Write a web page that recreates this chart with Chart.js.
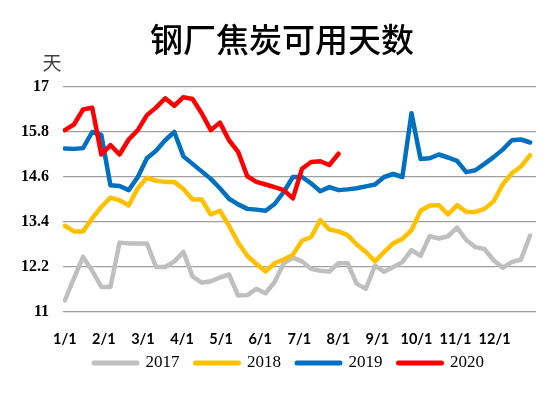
<!DOCTYPE html>
<html><head><meta charset="utf-8">
<script src="https://cdn.jsdelivr.net/npm/chart.js@4.4.1/dist/chart.umd.min.js"></script>
<style>html,body{margin:0;padding:0;background:#fff}#c{display:block}</style>
</head><body>
<canvas id="c" width="550" height="396"></canvas>
<script>
const chartTitle = '钢厂焦炭可用天数';
const unitLabel = '天';
const monthLabels = ['1/1','2/1','3/1','4/1','5/1','6/1','7/1','8/1','9/1','10/1','11/1','12/1'];
const yTicks = [11, 12.2, 13.4, 14.6, 15.8, 17];
const yTickLabels = ['11', '12.2', '13.4', '14.6', '15.8', '17'];
const seriesNames = ['2017', '2018', '2019', '2020'];
const seriesColors = ['#BFBFBF', '#FFC000', '#0070C0', '#FF0000'];

const v2017 = [11.31,11.9,12.47,12.1,11.67,11.67,12.85,12.83,12.83,12.83,12.2,12.2,12.35,12.6,11.95,11.78,11.82,11.92,12.0,11.44,11.45,11.62,11.5,11.8,12.3,12.45,12.35,12.15,12.1,12.08,12.3,12.3,11.75,11.62,12.24,12.07,12.2,12.33,12.65,12.5,13.02,12.96,13.02,13.25,12.92,12.73,12.68,12.38,12.18,12.33,12.4,13.04];
const v2018 = [13.3,13.15,13.15,13.5,13.8,14.05,13.98,13.84,14.3,14.58,14.5,14.47,14.47,14.28,14.0,14.0,13.6,13.7,13.3,12.85,12.5,12.28,12.08,12.3,12.4,12.53,12.9,13.0,13.45,13.2,13.15,13.05,12.8,12.6,12.35,12.6,12.83,12.95,13.18,13.7,13.84,13.85,13.6,13.85,13.67,13.67,13.75,13.95,14.4,14.7,14.88,15.18];
const v2019 = [15.36,15.35,15.37,15.8,15.72,14.38,14.36,14.25,14.6,15.1,15.3,15.58,15.8,15.15,14.95,14.75,14.55,14.3,14.02,13.87,13.75,13.73,13.7,13.88,14.2,14.6,14.6,14.43,14.22,14.33,14.25,14.27,14.3,14.35,14.4,14.6,14.68,14.6,16.3,15.08,15.1,15.2,15.12,15.03,14.73,14.78,14.95,15.13,15.33,15.58,15.6,15.52];
const v2020 = [15.85,16.0,16.4,16.45,15.2,15.45,15.2,15.6,15.85,16.25,16.45,16.7,16.5,16.73,16.68,16.3,15.85,16.05,15.58,15.27,14.62,14.47,14.4,14.33,14.25,14.03,14.82,15.0,15.02,14.92,15.22];

const seriesValues = [v2017, v2018, v2019, v2020];
const weekIndex = v2019.map((_, i) => i);
const monthStep = 4.283;

// layout constants
const legendShiftX = 21;
const legendShiftY = -13.5;

const titlePlugin = {
  id: 'titleText',
  afterDraw(chart) {
    const ctx = chart.ctx;
    ctx.save();
    ctx.textAlign = 'center';
    ctx.textBaseline = 'middle';
    ctx.fillStyle = '#000';
    ctx.font = '500 33px "Noto Sans CJK SC"';
    ctx.fillText(chartTitle, 282, 39);
    ctx.fillStyle = '#404040';
    ctx.font = '19px "Noto Sans CJK SC"';
    ctx.fillText(unitLabel, 52, 63);
    ctx.restore();
  }
};

const legendPlacePlugin = {
  id: 'legendPlace',
  afterLayout(chart) {
    const lg = chart.legend;
    if (!lg) return;
    lg.left += legendShiftX; lg.right += legendShiftX;
    lg.top += legendShiftY; lg.bottom += legendShiftY;
  }
};

function draw() {
  new Chart(document.getElementById('c'), {
    type: 'line',
    data: {
      labels: weekIndex,
      datasets: seriesNames.map((name, k) => ({
        label: name,
        data: seriesValues[k],
        borderColor: seriesColors[k],
        backgroundColor: seriesColors[k],
        borderWidth: 4.5,
        pointRadius: 0,
        tension: 0,
        fill: false,
        borderJoinStyle: 'round',
        borderCapStyle: 'round',
        order: seriesNames.length - k
      }))
    },
    options: {
      responsive: false,
      animation: false,
      layout: { padding: { top: 87, left: 0, right: 14, bottom: 1 } },
      plugins: {
        tooltip: { enabled: false },
        title: { display: false },
        legend: {
          position: 'bottom',
          labels: {
            usePointStyle: true,
            pointStyle: 'line',
            pointStyleWidth: 43,
            boxWidth: 43,
            padding: 16,
            color: '#000',
            font: { family: 'Liberation Serif', size: 17 },
            sort: (a, b) => a.datasetIndex - b.datasetIndex,
            generateLabels(chart) {
              return chart.data.datasets.map((ds, i) => ({
                text: ds.label,
                datasetIndex: i,
                strokeStyle: ds.borderColor,
                fillStyle: ds.borderColor,
                lineWidth: 5,
                lineCap: 'round',
                pointStyle: 'line',
                hidden: false,
                fontColor: '#000'
              }));
            }
          }
        }
      },
      scales: {
        x: {
          type: 'linear',
          min: -0.2,
          max: 51.65,
          grid: { display: false, drawTicks: false },
          border: { display: false },
          afterBuildTicks(scale) {
            scale.ticks = monthLabels.map((_, k) => ({ value: k * monthStep }));
          },
          afterFit(scale) { scale.height = 40; },
          ticks: {
            autoSkip: false,
            maxRotation: 0,
            padding: 19,
            color: '#000',
            font: { family: 'Lato', weight: 'bold', size: 14.5 },
            callback: (v, i) => monthLabels[i]
          }
        },
        y: {
          min: 11,
          max: 17,
          afterBuildTicks(scale) {
            scale.ticks = yTicks.map(v => ({ value: v }));
          },
          afterFit(scale) { scale.width = 63; },
          grid: { color: '#A0A0A0', lineWidth: 1.3, drawTicks: false },
          border: { display: false },
          ticks: {
            padding: 14,
            color: '#000',
            font: { family: 'Liberation Serif', weight: 'bold', size: 16 },
            callback: (v, i) => yTickLabels[i]
          }
        }
      }
    },
    plugins: [titlePlugin, legendPlacePlugin]
  });
}

const fontLoads = [
  '500 33px "Noto Sans CJK SC"', '19px "Noto Sans CJK SC"',
  'bold 14.5px Lato', 'bold 16px "Liberation Serif"', '17px "Liberation Serif"'
].map(f => document.fonts.load(f, '钢厂焦炭可用天数12/1').catch(() => null));
Promise.all(fontLoads).then(draw, draw);
</script>
</body></html>
